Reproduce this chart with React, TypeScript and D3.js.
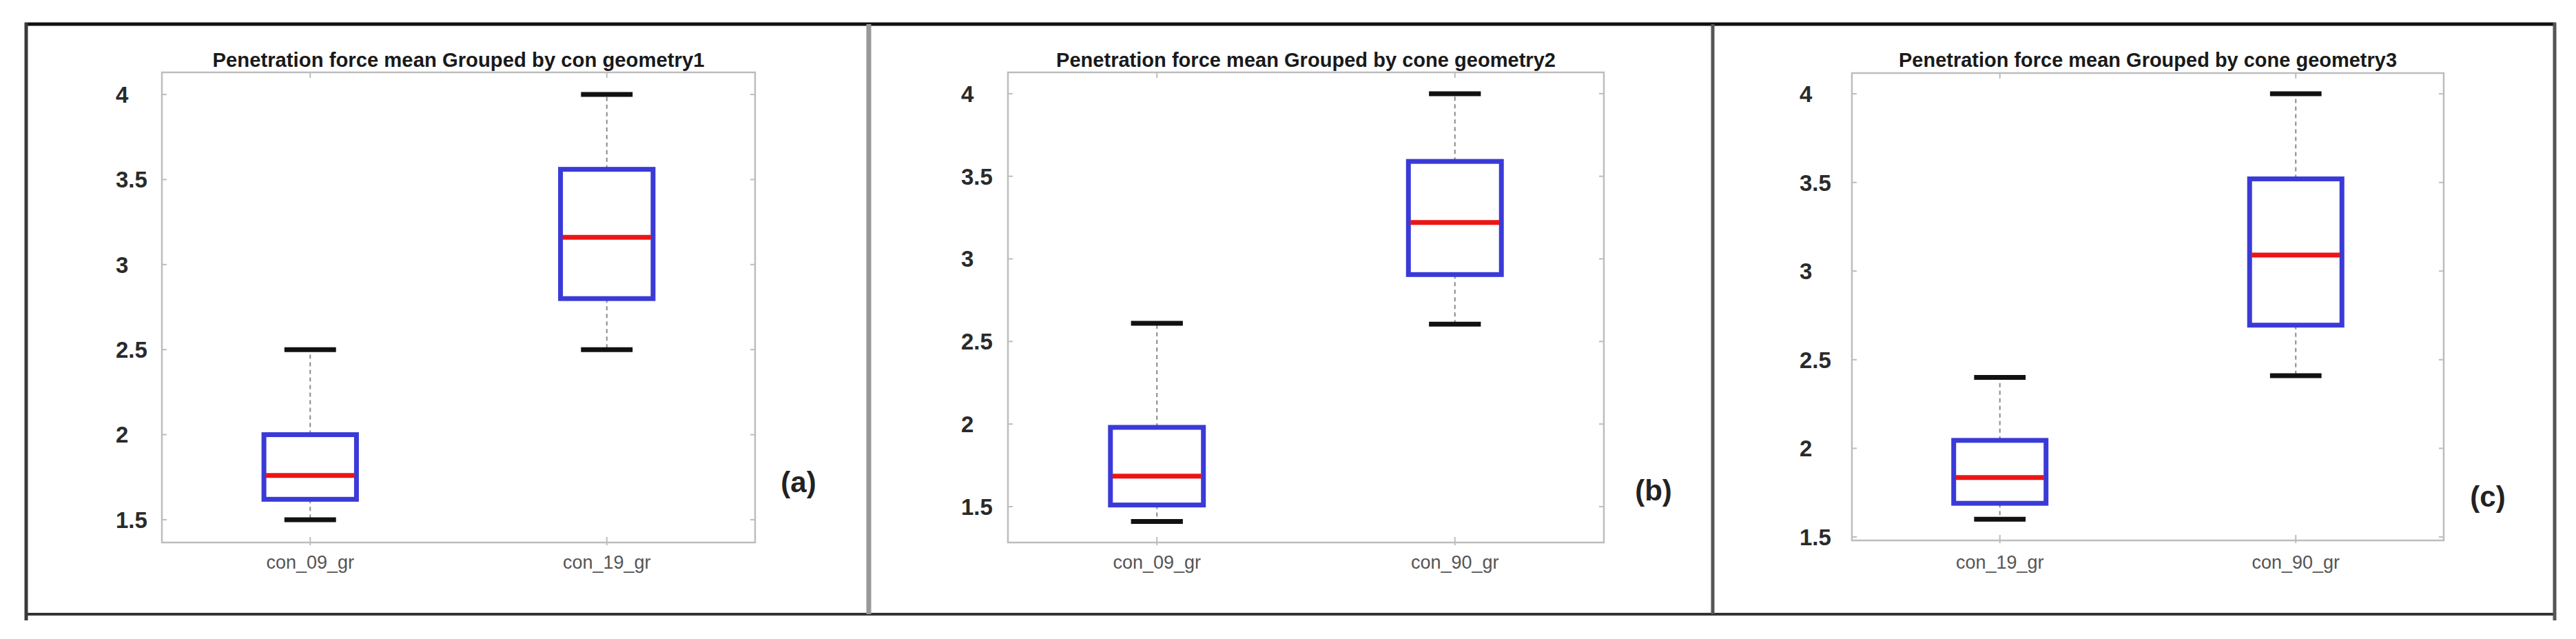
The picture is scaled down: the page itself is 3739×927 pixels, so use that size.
import React from "react";
import * as d3 from "d3";

// ---- data ----
const panelTitles = [
  "Penetration force mean Grouped by con geometry1",
  "Penetration force mean Grouped by cone geometry2",
  "Penetration force mean Grouped by cone geometry3",
];
const panelTags = ["(a)", "(b)", "(c)"];
const categoriesA = ["con_09_gr", "con_19_gr"];
const categoriesB = ["con_09_gr", "con_90_gr"];
const categoriesC = ["con_19_gr", "con_90_gr"];
// [min, q1, median, q3, max]
const statsA = [
  [1.5, 1.62, 1.76, 2.0, 2.5],
  [2.5, 2.8, 3.16, 3.56, 4.0],
];
const statsB = [
  [1.41, 1.51, 1.685, 1.98, 2.61],
  [2.605, 2.905, 3.22, 3.59, 4.0],
];
const statsC = [
  [1.6, 1.69, 1.835, 2.045, 2.4],
  [2.41, 2.695, 3.09, 3.52, 4.0],
];
const yDomains = [
  [1.366, 4.13],
  [1.283, 4.129],
  [1.4806, 4.117],
];
const yTicks = [1.5, 2, 2.5, 3, 3.5, 4];
const yTickLabels = ["1.5", "2", "2.5", "3", "3.5", "4"];

const W = 3739;
const H = 927;
const FONT = "'Liberation Sans', Arial, Helvetica, sans-serif";

const layouts = [
  { left: 235, right: 1096, top: 105, bottom: 787, labelX: 168, titleW: 714, tagX: 1159, tagY: 703 },
  { left: 1463, right: 2328, top: 105, bottom: 787, labelX: 1395, titleW: 725, tagX: 2400, tagY: 715 },
  { left: 2688, right: 3547, top: 106, bottom: 784, labelX: 2612, titleW: 723, tagX: 3611, tagY: 724 },
];

const cats = [categoriesA, categoriesB, categoriesC];
const stats = [statsA, statsB, statsC];

function Panel({ idx }: { idx: number }) {
  const L = layouts[idx];
  const y = d3.scaleLinear().domain(yDomains[idx]).range([L.bottom, L.top]);
  const x = d3.scaleLinear().domain([0.5, 2.5]).range([L.left, L.right]);
  const boxHalf = 0.156;
  const capHalf = 0.087;
  const frameCol = "#bdbdbd";
  return (
    <g>
      {/* title */}
      <text
        x={(L.left + L.right) / 2}
        y={97}
        textAnchor="middle"
        fontFamily={FONT}
        fontWeight="bold"
        fontSize={29}
        fill="#1a1a1a"
        textLength={L.titleW}
        lengthAdjust="spacingAndGlyphs"
      >
        {panelTitles[idx]}
      </text>
      {/* plot frame */}
      <rect
        x={L.left}
        y={L.top}
        width={L.right - L.left}
        height={L.bottom - L.top}
        fill="none"
        stroke={frameCol}
        strokeWidth={2.5}
      />
      {/* y ticks */}
      {yTicks.map((t, i) => (
        <g key={"yt" + i}>
          <line x1={L.left} x2={L.left + 7} y1={y(t)} y2={y(t)} stroke={frameCol} strokeWidth={2} />
          <line x1={L.right} x2={L.right - 7} y1={y(t)} y2={y(t)} stroke={frameCol} strokeWidth={2} />
          <text
            x={L.labelX}
            y={y(t)}
            dy="0.36em"
            textAnchor="start"
            fontFamily={FONT}
            fontWeight="bold"
            fontSize={33}
            fill="#2a2a2a"
          >
            {yTickLabels[i]}
          </text>
        </g>
      ))}
      {/* x ticks and labels */}
      {cats[idx].map((c, i) => (
        <g key={"xt" + i}>
          <line x1={x(i + 1)} x2={x(i + 1)} y1={L.bottom + 4} y2={L.bottom - 8} stroke={frameCol} strokeWidth={2} />
          <line x1={x(i + 1)} x2={x(i + 1)} y1={L.top} y2={L.top + 8} stroke={frameCol} strokeWidth={2} />
          <text
            x={x(i + 1)}
            y={825}
            textAnchor="middle"
            fontFamily={FONT}
            fontSize={27}
            fill="#555"
          >
            {c}
          </text>
        </g>
      ))}
      {/* boxes */}
      {stats[idx].map((s, i) => {
        const cx = x(i + 1);
        const [mn, q1, md, q3, mx] = s;
        return (
          <g key={"b" + i}>
            <line x1={cx} x2={cx} y1={y(q3)} y2={y(mx)} stroke="#8a8a8a" strokeWidth={2} strokeDasharray="6,5" />
            <line x1={cx} x2={cx} y1={y(q1)} y2={y(mn)} stroke="#8a8a8a" strokeWidth={2} strokeDasharray="6,5" />
            <line x1={x(i + 1 - capHalf)} x2={x(i + 1 + capHalf)} y1={y(mx)} y2={y(mx)} stroke="#111" strokeWidth={7} />
            <line x1={x(i + 1 - capHalf)} x2={x(i + 1 + capHalf)} y1={y(mn)} y2={y(mn)} stroke="#111" strokeWidth={7} />
            <rect
              x={x(i + 1 - boxHalf)}
              y={y(q3)}
              width={x(i + 1 + boxHalf) - x(i + 1 - boxHalf)}
              height={y(q1) - y(q3)}
              fill="none"
              stroke="#3a3ad8"
              strokeWidth={7}
            />
            <line
              x1={x(i + 1 - boxHalf) + 3}
              x2={x(i + 1 + boxHalf) - 3}
              y1={y(md)}
              y2={y(md)}
              stroke="#ec1515"
              strokeWidth={7}
            />
          </g>
        );
      })}
      {/* panel tag */}
      <text
        x={L.tagX}
        y={L.tagY + 11}
        textAnchor="middle"
        fontFamily={FONT}
        fontWeight="bold"
        fontSize={42}
        fill="#222"
      >
        {panelTags[idx]}
      </text>
    </g>
  );
}

export default function App() {
  return (
    <svg
      width={W}
      height={H}
      style={{ position: "absolute", left: 0, top: 0, display: "block", background: "#fff" }}
    >
      <rect x={0} y={0} width={W} height={H} fill="#fff" />
      {/* outer frame and dividers */}
      <line x1={36} x2={3710} y1={35} y2={35} stroke="#111" strokeWidth={5} />
      <line x1={36} x2={3710} y1={891} y2={891} stroke="#333" strokeWidth={4} />
      <line x1={38} x2={38} y1={33} y2={900} stroke="#3a3a3a" strokeWidth={5} />
      <line x1={3708} x2={3708} y1={33} y2={900} stroke="#555" strokeWidth={5} />
      <line x1={1261} x2={1261} y1={35} y2={891} stroke="#999" strokeWidth={7} />
      <line x1={2486} x2={2486} y1={35} y2={891} stroke="#555" strokeWidth={5} />
      {[0, 1, 2].map((i) => (
        <Panel key={i} idx={i} />
      ))}
    </svg>
  );
}
